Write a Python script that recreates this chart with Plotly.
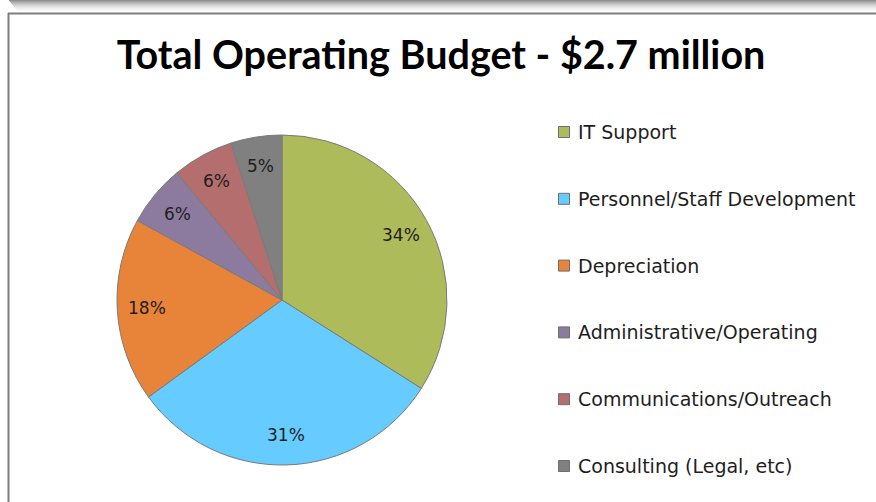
import math
import plotly.graph_objects as go

W, H = 876, 502

title_text = "Total Operating Budget - $2.7 million"
categories = ["IT Support", "Personnel/Staff Development", "Depreciation",
              "Administrative/Operating", "Communications/Outreach", "Consulting (Legal, etc)"]
shares = [34, 31, 18, 6, 6, 5]
colors = ["#AEBB5A", "#66CCFF", "#E8833A", "#8C7B9E", "#B46E6E", "#808080"]

def px(x):
    return x / W

def py(y):
    return 1 - y / H

# pie geometry (pixels)
cx, cy, r = 282, 300, 165
label_frac = 0.82

fig = go.Figure()
fig.add_trace(go.Pie(
    labels=categories,
    values=shares,
    sort=False,
    direction="clockwise",
    rotation=0,
    marker=dict(colors=colors, line=dict(color="#7a7a7a", width=1)),
    textinfo="none",
    domain=dict(x=[px(cx - r), px(cx + r)], y=[py(cy + r), py(cy - r)]),
    showlegend=False,
    hoverinfo="label+percent",
))

shapes = []
# shadow above the chart frame
n = 13
for i in range(n):
    shapes.append(dict(type="rect", xref="paper", yref="paper",
                       x0=px(9 + (n - 1 - i) * 0.8), x1=1.01, y0=py(13 - i), y1=py(12 - i),
                       line=dict(width=0),
                       fillcolor="rgba(70,70,70,%.3f)" % (0.6 * ((i + 1) / n) ** 2),
                       layer="below"))
# frame lines
shapes.append(dict(type="line", xref="paper", yref="paper", x0=px(8.5), x1=px(8.5),
                   y0=py(13), y1=-0.01, line=dict(color="#7f7f7f", width=2)))
shapes.append(dict(type="line", xref="paper", yref="paper", x0=px(8), x1=1.01,
                   y0=py(13.5), y1=py(13.5), line=dict(color="#7f7f7f", width=2)))

annotations = []
# percentage labels placed along each slice's mid-angle
total = sum(shares)
cum = 0
for v in shares:
    theta = 2 * math.pi * (cum + v / 2) / total
    cum += v
    lx = cx + label_frac * r * math.sin(theta)
    ly = cy - label_frac * r * math.cos(theta)
    annotations.append(dict(text="%d%%" % round(100 * v / total), xref="paper", yref="paper",
                            x=px(lx), y=py(ly), xanchor="center", yanchor="middle",
                            showarrow=False,
                            font=dict(family="DejaVu Sans", size=17, color="#1e1e1e")))

leg_y0, leg_dy = 132, 66.8
for i, (lab, col) in enumerate(zip(categories, colors)):
    yc = leg_y0 + i * leg_dy
    shapes.append(dict(type="rect", xref="paper", yref="paper",
                       x0=px(558.5), x1=px(569.5), y0=py(yc + 5.5), y1=py(yc - 5.5),
                       fillcolor=col, line=dict(color="#6f6f6f", width=1)))
    annotations.append(dict(text=lab, xref="paper", yref="paper", x=px(576), y=py(yc),
                            xanchor="left", yanchor="middle", showarrow=False,
                            font=dict(family="DejaVu Sans", size=19, color="#1e1e1e")))

fig.update_layout(
    width=W, height=H,
    margin=dict(l=0, r=0, t=0, b=0),
    paper_bgcolor="white",
    plot_bgcolor="white",
    title=dict(text="<b>" + title_text + "</b>", x=px(441), y=py(55), xanchor="center",
               yanchor="middle", font=dict(family="Lato", size=39.5, color="#000000")),
    shapes=shapes,
    annotations=annotations,
)

fig.write_html("out.html", config={"displayModeBar": False},
               post_script="document.body.style.margin='0';")
